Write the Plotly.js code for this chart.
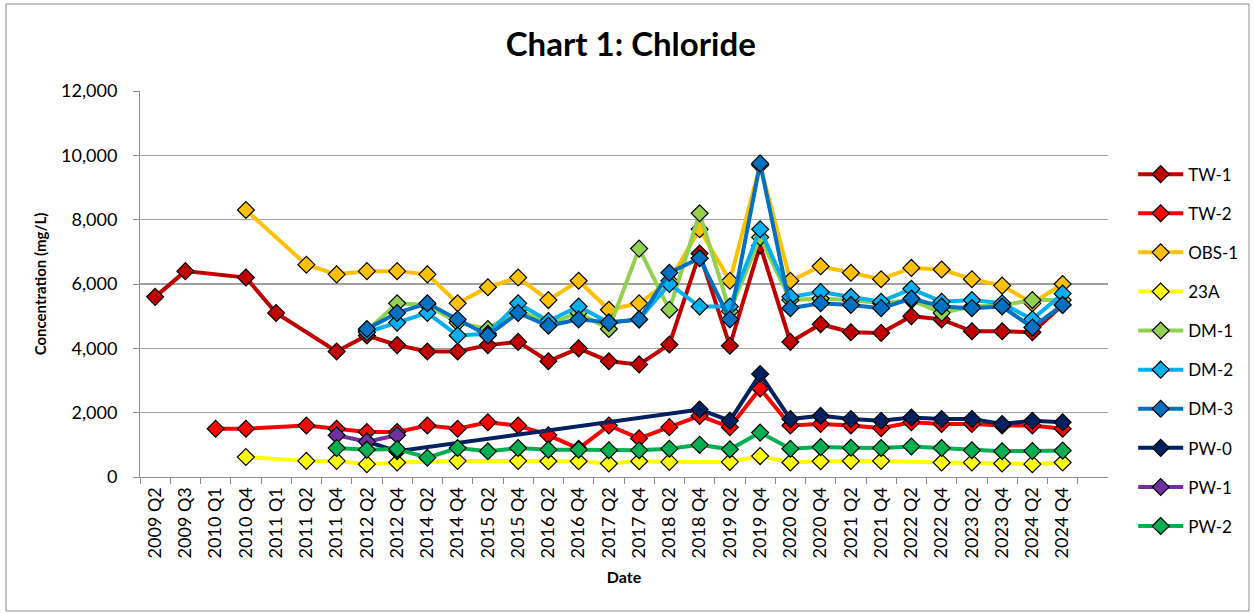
<!DOCTYPE html>
<html>
<head>
<meta charset="utf-8">
<script src="https://cdn.plot.ly/plotly-3.0.1.min.js"></script>
<style>
  html, body { margin: 0; padding: 0; background: #ffffff; }
  #chart { width: 1254px; height: 614px; }
</style>
</head>
<body>
<div id="chart"></div>
<script>
const dates = ["2009 Q2","2009 Q3","2010 Q1","2010 Q4","2011 Q1","2011 Q2","2011 Q4","2012 Q2","2012 Q4",
  "2014 Q2","2014 Q4","2015 Q2","2015 Q4","2016 Q2","2016 Q4","2017 Q2","2017 Q4","2018 Q2","2018 Q4",
  "2019 Q2","2019 Q4","2020 Q2","2020 Q4","2021 Q2","2021 Q4","2022 Q2","2022 Q4","2023 Q2","2023 Q4",
  "2024 Q2","2024 Q4"];

const tw1  = [5600,6400,null,6200,5100,null,3900,4400,4100,3900,3900,4100,4200,3600,4000,3600,3500,4120,6950,4080,7200,4200,4750,4500,4480,5000,4900,4530,4530,4500,5350];
const tw2  = [null,null,1500,1500,null,1600,1500,1400,1400,1600,1500,1700,1600,1300,880,1600,1200,1550,1900,1550,2750,1600,1650,1600,1520,1700,1650,1650,1600,1600,1500];
const obs1 = [null,null,null,8300,null,6600,6300,6400,6400,6300,5400,5900,6200,5500,6100,5200,5400,6100,7700,6100,9700,6100,6550,6350,6150,6500,6450,6150,5950,5400,6000];
const a23  = [null,null,null,620,null,500,500,400,450,null,500,null,500,490,490,420,490,470,null,470,650,450,490,500,500,null,450,450,420,400,450];
const dm1  = [null,null,null,null,null,null,null,4550,5400,5350,4800,4600,5200,4770,5100,4600,7100,5200,8200,5150,7450,5500,5550,5500,5400,5500,5100,5300,5340,5500,5500];
const dm2  = [null,null,null,null,null,null,null,4500,4800,5100,4400,4450,5400,4850,5300,4800,4900,6000,5300,5300,7700,5600,5750,5600,5450,5850,5450,5500,5400,4900,5700];
const dm3  = [null,null,null,null,null,null,null,4600,5100,5400,4900,4400,5100,4700,4900,4800,4900,6350,6800,4900,9750,5250,5400,5350,5250,5550,5300,5250,5300,4650,5350];
const pw0  = [null,null,null,null,null,null,null,1100,800,null,null,null,null,null,null,null,null,null,2100,1750,3200,1800,1900,1800,1750,1850,1800,1800,1650,1750,1700];
const pw1  = [null,null,null,null,null,null,1300,1100,1300,null,null,null,null,null,null,null,null,null,null,null,null,null,null,null,null,null,null,null,null,null,null];
const pw2  = [null,null,null,null,null,null,900,850,870,600,900,800,900,850,850,830,830,880,1000,860,1380,880,930,910,900,950,900,830,800,810,820];

const seriesNames  = ["TW-1","TW-2","OBS-1","23A","DM-1","DM-2","DM-3","PW-0","PW-1","PW-2"];
const seriesValues = [tw1, tw2, obs1, a23, dm1, dm2, dm3, pw0, pw1, pw2];
const seriesColors = ["#C00000","#FF0000","#FFC000","#FFFF00","#92D050","#00B0F0","#0070C0","#002060","#7030A0","#00B050"];

const FONT = "Lato, 'Open Sans', sans-serif";

const traces = seriesNames.map((name, i) => ({
  type: "scatter",
  mode: "lines+markers",
  name: name,
  legendgroup: name,
  x: dates,
  y: seriesValues[i],
  connectgaps: true,
  line: { color: seriesColors[i], width: 4 },
  marker: { symbol: "diamond", size: 13, color: seriesColors[i], line: { color: "#000000", width: 1.2 } }
}));

const layout = {
  width: 1254,
  height: 614,
  paper_bgcolor: "#ffffff",
  plot_bgcolor: "#ffffff",
  font: { family: FONT, size: 18, color: "#000000" },
  margin: { l: 140, r: 146, t: 91, b: 137, autoexpand: false },
  title: {
    text: "<b>Chart 1: Chloride</b>",
    font: { family: FONT, size: 33, color: "#000000" },
    x: 0.503, xref: "container", xanchor: "center",
    y: 0.927, yref: "container", yanchor: "middle"
  },
  xaxis: {
    type: "category",
    categoryorder: "array",
    categoryarray: dates,
    range: [-0.5, 31.5],
    tickangle: -90,
    tickson: "boundaries",
    ticks: "outside",
    ticklen: 6,
    tickcolor: "#8c8c8c",
    tickfont: { family: FONT, size: 18, color: "#000000" },
    ticklabelstandoff: 2,
    showline: true,
    linecolor: "#8c8c8c",
    linewidth: 1,
    showgrid: false,
    zeroline: false,
    automargin: false,
    title: { text: "<b>Date</b>", font: { family: FONT, size: 16, color: "#000000" }, standoff: 14 }
  },
  yaxis: {
    range: [0, 12000],
    tick0: 0,
    dtick: 2000,
    tickformat: ",d",
    ticks: "outside",
    ticklen: 6,
    tickcolor: "#8c8c8c",
    tickfont: { family: FONT, size: 18, color: "#000000" },
    ticklabelstandoff: 12,
    showline: true,
    linecolor: "#8c8c8c",
    linewidth: 1,
    showgrid: true,
    gridcolor: "#a0a0a0",
    gridwidth: 1.2,
    zeroline: false,
    automargin: false,
    title: { text: "<b>Concentration (mg/L)</b>", font: { family: FONT, size: 15, color: "#000000" }, standoff: 10 }
  },
  showlegend: true,
  legend: {
    x: 1.026, xanchor: "left",
    y: 0.83, yanchor: "top",
    font: { family: FONT, size: 17, color: "#000000" },
    traceorder: "grouped",
    tracegroupgap: 14,
    itemwidth: 45,
    bgcolor: "rgba(0,0,0,0)"
  },
  shapes: [{
    type: "rect", xref: "paper", yref: "paper",
    x0: (6 - 140) / 968, x1: (1249 - 140) / 968,
    y0: (477 - 611) / 386, y1: (477 - 4) / 386,
    line: { color: "#8c8c8c", width: 1 },
    fillcolor: "rgba(0,0,0,0)",
    layer: "below"
  }]
};

Plotly.newPlot("chart", traces, layout, { displayModeBar: false, staticPlot: true });
</script>
</body>
</html>
